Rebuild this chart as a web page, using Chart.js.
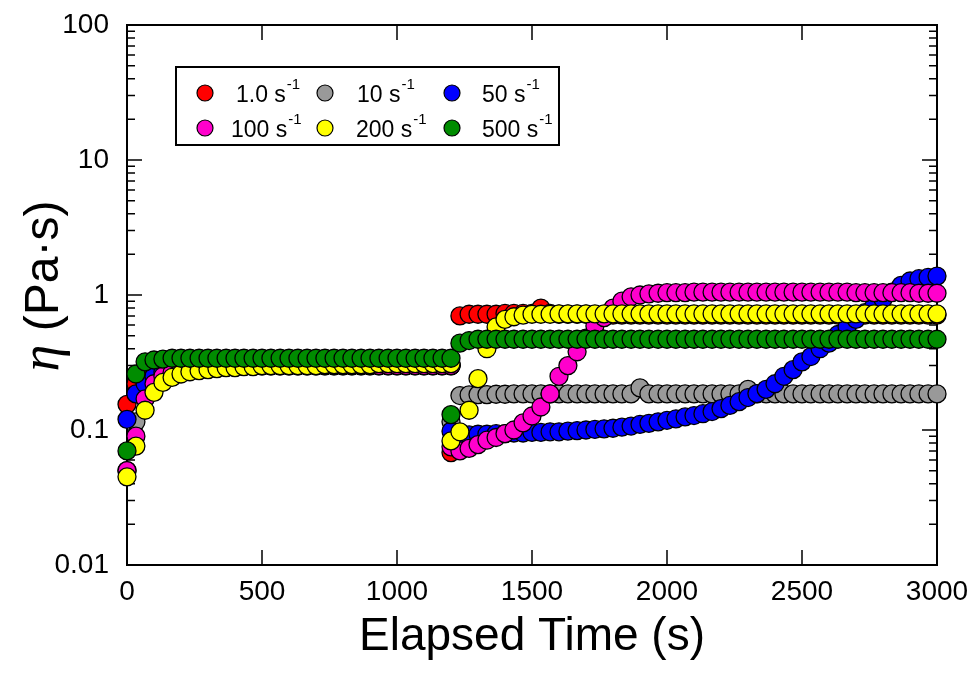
<!DOCTYPE html>
<html><head><meta charset="utf-8">
<script src="https://cdn.jsdelivr.net/npm/chart.js@4/dist/chart.umd.min.js"></script>
<style>html,body{margin:0;padding:0;background:#fff;}</style>
</head><body>
<canvas id="c" width="975" height="674"></canvas>
<script>
// ---------- data ----------
const elapsedTime = [
  0,33,67,100,133,167,200,233,267,300,333,367,400,433,467,500,533,567,600,633,667,700,733,767,800,833,867,900,933,967,1000,1033,1067,1100,1133,1167,1200,
  1200,1233,1267,1300,1333,1367,1400,1433,1467,1500,1533,1567,1600,1633,1667,1700,1733,1767,1800,1833,1867,1900,1933,1967,2000,2033,2067,2100,2133,2167,2200,2233,2267,2300,2333,2367,2400,2433,2467,2500,2533,2567,2600,2633,2667,2700,2733,2767,2800,2833,2867,2900,2933,2967,3000
];
const seriesLabels = ['1.0', '10', '50', '100', '200', '500'];
const seriesColors = ['#ff0000', '#999999', '#0000ff', '#ff00cc', '#ffff00', '#008c00'];

const eta_1 = [
  0.155,0.22,0.25,0.27,0.28,0.285,0.29,0.29,0.295,0.295,
  0.295,0.30,0.30,0.30,0.30,0.30,0.30,0.30,0.30,0.30,
  0.30,0.30,0.30,0.30,0.30,0.30,0.30,0.30,0.30,0.30,
  0.30,0.30,0.30,0.30,0.30,0.30,0.30,
  0.068,0.70,0.72,0.72,0.72,0.72,0.73,0.73,0.73,0.73,
  0.80,0.73,0.72,0.72,0.72,0.72,0.71,0.71,0.71,0.71,
  0.71,0.71,0.71,0.71,0.71,0.71,0.71,0.71,0.71,0.71,
  0.71,0.71,0.71,0.71,0.71,0.71,0.71,0.71,0.71,0.71,
  0.71,0.71,0.71,0.71,0.71,0.71,0.71,0.71,0.71,0.71,
  0.71,0.71,0.71,0.71,0.71
];
const eta_10 = [
  0.05,0.115,0.19,0.23,0.255,0.27,0.28,0.285,0.29,0.29,
  0.295,0.295,0.30,0.30,0.30,0.30,0.30,0.30,0.30,0.30,
  0.30,0.30,0.30,0.30,0.30,0.30,0.30,0.30,0.30,0.30,
  0.30,0.30,0.30,0.30,0.30,0.30,0.30,
  0.115,0.18,0.182,0.183,0.183,0.184,0.184,0.185,0.185,0.185,
  0.185,0.185,0.185,0.185,0.185,0.185,0.185,0.185,0.185,0.185,
  0.185,0.205,0.185,0.185,0.185,0.185,0.185,0.185,0.185,0.185,
  0.185,0.185,0.185,0.20,0.185,0.185,0.185,0.185,0.185,0.185,
  0.185,0.185,0.185,0.185,0.185,0.185,0.185,0.185,0.185,0.185,
  0.185,0.185,0.185,0.185,0.185
];
const eta_50 = [
  0.12,0.185,0.22,0.25,0.27,0.28,0.285,0.29,0.29,0.295,
  0.295,0.30,0.30,0.30,0.30,0.30,0.30,0.30,0.30,0.30,
  0.30,0.30,0.30,0.30,0.30,0.30,0.30,0.30,0.30,0.30,
  0.30,0.30,0.30,0.30,0.30,0.30,0.30,
  0.098,0.093,0.092,0.093,0.093,0.094,0.094,0.095,0.095,0.096,
  0.096,0.097,0.097,0.098,0.099,0.10,0.101,0.102,0.103,0.105,
  0.107,0.110,0.112,0.115,0.118,0.121,0.125,0.128,0.132,0.137,
  0.144,0.152,0.162,0.174,0.186,0.20,0.22,0.25,0.28,0.32,
  0.35,0.40,0.44,0.51,0.58,0.66,0.74,0.83,0.93,1.05,
  1.18,1.27,1.32,1.35,1.38
];
const eta_100 = [
  0.05,0.09,0.17,0.22,0.25,0.265,0.275,0.28,0.285,0.29,
  0.29,0.295,0.295,0.30,0.30,0.30,0.30,0.30,0.30,0.30,
  0.30,0.30,0.30,0.30,0.30,0.30,0.30,0.30,0.30,0.30,
  0.30,0.30,0.30,0.30,0.30,0.30,0.30,
  0.075,0.07,0.073,0.078,0.084,0.088,0.094,0.10,0.113,0.127,
  0.148,0.185,0.25,0.30,0.38,0.48,0.59,0.68,0.80,0.90,
  0.97,1.00,1.02,1.03,1.04,1.04,1.04,1.05,1.05,1.05,
  1.05,1.05,1.05,1.05,1.05,1.05,1.05,1.05,1.05,1.05,
  1.05,1.05,1.05,1.05,1.05,1.04,1.04,1.04,1.04,1.04,
  1.04,1.04,1.03,1.03,1.03
];
const eta_200 = [
  0.045,0.076,0.14,0.19,0.225,0.245,0.26,0.27,0.275,0.28,
  0.285,0.29,0.29,0.295,0.295,0.30,0.30,0.30,0.30,0.30,
  0.30,0.30,0.305,0.305,0.305,0.305,0.305,0.305,0.31,0.31,
  0.31,0.31,0.31,0.31,0.31,0.31,0.31,
  0.083,0.097,0.14,0.24,0.40,0.58,0.66,0.69,0.71,0.72,
  0.72,0.72,0.725,0.725,0.725,0.725,0.725,0.725,0.725,0.725,
  0.725,0.725,0.725,0.725,0.725,0.725,0.725,0.725,0.725,0.725,
  0.725,0.725,0.725,0.725,0.725,0.725,0.725,0.725,0.725,0.725,
  0.725,0.725,0.725,0.725,0.725,0.725,0.725,0.725,0.725,0.725,
  0.725,0.725,0.725,0.725,0.725
];
const eta_500 = [
  0.07,0.26,0.32,0.33,0.335,0.34,0.34,0.34,0.34,0.34,
  0.34,0.34,0.34,0.34,0.34,0.34,0.34,0.34,0.34,0.34,
  0.34,0.34,0.34,0.34,0.34,0.34,0.34,0.34,0.34,0.34,
  0.34,0.34,0.34,0.34,0.34,0.34,0.34,
  0.13,0.44,0.46,0.47,0.47,0.47,0.47,0.47,0.47,0.47,
  0.47,0.47,0.47,0.47,0.47,0.47,0.47,0.47,0.47,0.47,
  0.47,0.47,0.47,0.47,0.47,0.47,0.47,0.47,0.47,0.47,
  0.47,0.47,0.47,0.47,0.47,0.47,0.47,0.47,0.47,0.47,
  0.47,0.47,0.47,0.47,0.47,0.47,0.47,0.47,0.47,0.47,
  0.47,0.47,0.47,0.47,0.47
];
const seriesValues = [eta_1, eta_10, eta_50, eta_100, eta_200, eta_500];

const xTickValues = [0, 500, 1000, 1500, 2000, 2500, 3000];
const yTickValues = [0.01, 0.1, 1, 10, 100];
const yTickLabels = ['0.01', '0.1', '1', '10', '100'];
const yMinorFactors = [2, 3, 4, 5, 6, 7, 8, 9];
const xTitle = 'Elapsed Time (s)';
const yTitleSymbol = 'η';
const yTitleUnit = ' (Pa·s)';
const legendUnit = ' s';
const legendExp = '-1';

// ---------- chart ----------
const SANS = "'Liberation Sans', Arial, Helvetica, sans-serif";
Chart.defaults.font.family = SANS;
Chart.defaults.color = '#000';

const datasets = seriesLabels.map((lab, k) => ({
  label: lab + legendUnit + legendExp,
  data: elapsedTime.map((t, i) => ({x: t, y: seriesValues[k][i]})),
  showLine: false,
  pointRadius: 9,
  pointHoverRadius: 9,
  pointBackgroundColor: seriesColors[k],
  pointBorderColor: '#000',
  pointBorderWidth: 1.3,
  order: seriesLabels.length - 1 - k,
  clip: false
}));

const framePlugin = {
  id: 'frame',
  beforeDatasetsDraw(chart) {
    const {ctx, chartArea: a, scales: {x, y}} = chart;
    ctx.save();
    ctx.strokeStyle = '#000';
    ctx.lineWidth = 1.5;
    ctx.beginPath();
    for (const v of xTickValues) {
      const px = x.getPixelForValue(v);
      ctx.moveTo(px, a.bottom); ctx.lineTo(px, a.bottom - 15);
      ctx.moveTo(px, a.top); ctx.lineTo(px, a.top + 15);
    }
    for (const v of yTickValues) {
      const py = y.getPixelForValue(v);
      ctx.moveTo(a.left, py); ctx.lineTo(a.left + 15, py);
      ctx.moveTo(a.right, py); ctx.lineTo(a.right - 15, py);
    }
    for (let d = 0; d < yTickValues.length - 1; d++) {
      for (const m of yMinorFactors) {
        const py = y.getPixelForValue(yTickValues[d] * m);
        ctx.moveTo(a.left, py); ctx.lineTo(a.left + 8, py);
        ctx.moveTo(a.right, py); ctx.lineTo(a.right - 8, py);
      }
    }
    ctx.stroke();
    ctx.lineWidth = 2;
    ctx.strokeRect(a.left, a.top, a.right - a.left, a.bottom - a.top);
    ctx.restore();
  },
  afterDraw(chart) {
    const {ctx, chartArea: a} = chart;
    ctx.save();
    ctx.fillStyle = '#000';
    ctx.textBaseline = 'alphabetic';
    // x title
    ctx.font = '46px ' + SANS;
    ctx.textAlign = 'center';
    ctx.fillText(xTitle, (a.left + a.right) / 2, 650);
    // y title
    ctx.textAlign = 'left';
    ctx.translate(58, 286);
    ctx.rotate(-Math.PI / 2);
    const f1 = "italic 54px 'Liberation Serif', 'DejaVu Serif', serif";
    const f2 = '48px ' + SANS;
    ctx.font = f1; const w1 = ctx.measureText(yTitleSymbol).width;
    ctx.font = f2; const w2 = ctx.measureText(yTitleUnit).width;
    const sx = -(w1 + w2) / 2;
    ctx.font = f1; ctx.fillText(yTitleSymbol, sx, 0);
    ctx.font = f2; ctx.fillText(yTitleUnit, sx + w1, 0);
    ctx.restore();

    // legend
    ctx.save();
    ctx.strokeStyle = '#000';
    ctx.lineWidth = 2;
    ctx.strokeRect(176, 67, 383, 78);
    const markerX = [205, 325, 452];
    const textX = [236, 357, 482];
    const textX2 = [231, 356, 482];
    const rowY = [93, 128];
    seriesLabels.forEach((lab, k) => {
      const row = Math.floor(k / 3), col = k % 3;
      const cy = rowY[row];
      ctx.beginPath();
      ctx.arc(markerX[col], cy, 8, 0, Math.PI * 2);
      ctx.fillStyle = seriesColors[k];
      ctx.fill();
      ctx.lineWidth = 1.2;
      ctx.stroke();
      ctx.fillStyle = '#000';
      ctx.font = '23px ' + SANS;
      ctx.textAlign = 'left';
      ctx.textBaseline = 'alphabetic';
      const tx = row === 0 ? textX[col] : textX2[col];
      const base = cy + 9;
      const main = lab + legendUnit;
      ctx.fillText(main, tx, base);
      const w = ctx.measureText(main).width;
      ctx.font = '15px ' + SANS;
      ctx.fillText(legendExp, tx + w + 1, base - 13);
    });
    ctx.restore();
  }
};

new Chart(document.getElementById('c'), {
  type: 'scatter',
  data: {datasets},
  options: {
    responsive: false,
    animation: false,
    layout: {padding: {top: 25, right: 38, left: 0, bottom: 0}},
    plugins: {legend: {display: false}, tooltip: {enabled: false}},
    events: [],
    scales: {
      x: {
        type: 'linear', min: 0, max: 3000,
        grid: {display: false, drawTicks: false, tickLength: 0},
        border: {display: false},
        ticks: {stepSize: 500, autoSkip: false, maxRotation: 0, padding: 10,
                font: {size: 28}, color: '#000', callback: v => String(v)},
        afterFit(s) { s.height = 109; s.paddingLeft = 0; s.paddingRight = 0; }
      },
      y: {
        type: 'logarithmic', min: 0.01, max: 100,
        grid: {display: false, drawTicks: false, tickLength: 0},
        border: {display: false},
        afterBuildTicks(s) { s.ticks = yTickValues.map(v => ({value: v})); },
        ticks: {padding: 18, font: {size: 28}, color: '#000',
                callback: v => yTickLabels[yTickValues.indexOf(v)]},
        afterFit(s) { s.width = 127; s.paddingTop = 0; s.paddingBottom = 0; }
      }
    }
  },
  plugins: [framePlugin]
});
</script>
</body></html>
